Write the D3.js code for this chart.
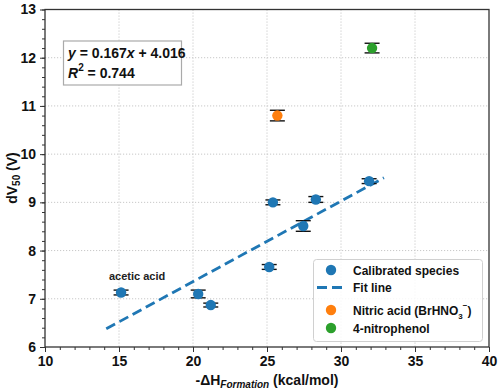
<!DOCTYPE html>
<html>
<head>
<meta charset="utf-8">
<script src="https://cdn.jsdelivr.net/npm/d3@7/dist/d3.min.js"></script>
<style>
  body { margin: 0; background: #fff; }
  svg { font-family: "Liberation Sans", Arial, sans-serif; }
</style>
</head>
<body>
<svg id="chart" width="500" height="391"></svg>
<script>
// calibrated species
const calX   = [15.14, 20.35, 21.2, 25.15, 25.4, 27.45, 28.3, 31.9];
const calY   = [7.13, 7.10, 6.87, 7.66, 9.00, 8.51, 9.06, 9.44];
const calErr = [0.05, 0.08, 0.04, 0.05, 0.05, 0.11, 0.06, 0.05];

// outliers
const nitricX = [25.7],  nitricY = [10.80], nitricErr = [0.11];
const phenolX = [32.1],  phenolY = [12.2],  phenolErr = [0.10];

// linear fit
const slope = 0.167, intercept = 4.016, r2 = 0.744;
const fitRange = [14.14, 32.9];

const xTicks = [10, 15, 20, 25, 30, 35, 40];
const yTicks = [6, 7, 8, 9, 10, 11, 12, 13];

const blue = "#1f77b4", orange = "#ff7f0e", green = "#2ca02c";

const svg = d3.select("#chart");
const m = {left: 45, right: 489, top: 9.5, bottom: 347};

const x = d3.scaleLinear().domain([10, 40]).range([m.left, m.right]);
const y = d3.scaleLinear().domain([6, 13]).range([m.bottom, m.top]);

// grid
const grid = svg.append("g").attr("stroke", "#c8c8c8").attr("stroke-width", 1)
  .attr("stroke-dasharray", "1.2,1.8");
grid.selectAll(".gx").data(xTicks.slice(1, -1)).enter().append("line")
  .attr("x1", d => x(d)).attr("x2", d => x(d)).attr("y1", m.top).attr("y2", m.bottom);
grid.selectAll(".gy").data(yTicks.slice(1, -1)).enter().append("line")
  .attr("y1", d => y(d)).attr("y2", d => y(d)).attr("x1", m.left).attr("x2", m.right);

// axes
const fmt = d3.format("d");
const xAxis = d3.axisBottom(x).tickValues(xTicks).tickFormat(fmt).tickSize(5).tickPadding(4);
const xMinor = d3.axisBottom(x).tickValues(d3.range(10, 40.01, 1)).tickSize(3).tickFormat("");
const yAxis = d3.axisLeft(y).tickValues(yTicks).tickFormat(fmt).tickSize(5).tickPadding(4);
const yMinor = d3.axisLeft(y).tickValues(d3.range(6, 13.01, 0.2)).tickSize(3).tickFormat("");

function styleAxis(g) {
  g.select(".domain").remove();
  g.selectAll("line").attr("stroke", "#333").attr("stroke-width", 1);
  g.selectAll("text").attr("fill", "#111").attr("font-size", 14).attr("font-weight", "bold");
}
svg.append("g").attr("transform", `translate(0,${m.bottom})`).call(xMinor).call(styleAxis);
svg.append("g").attr("transform", `translate(0,${m.bottom})`).call(xAxis).call(styleAxis);
svg.append("g").attr("transform", `translate(${m.left},0)`).call(yMinor).call(styleAxis);
svg.append("g").attr("transform", `translate(${m.left},0)`).call(yAxis).call(styleAxis);

svg.append("rect").attr("x", m.left).attr("y", m.top)
  .attr("width", m.right - m.left).attr("height", m.bottom - m.top)
  .attr("fill", "none").attr("stroke", "#333").attr("stroke-width", 1.3);

// fit line
svg.append("line")
  .attr("x1", x(fitRange[0])).attr("y1", y(slope * fitRange[0] + intercept))
  .attr("x2", x(fitRange[1])).attr("y2", y(slope * fitRange[1] + intercept))
  .attr("stroke", blue).attr("stroke-width", 2.8).attr("stroke-dasharray", "10,5");

// points with error bars
function series(xs, ys, errs, color) {
  const g = svg.append("g");
  const pts = xs.map((v, i) => ({x: v, y: ys[i], e: errs[i]}));
  const eb = g.selectAll(".eb").data(pts).enter().append("g").attr("stroke", "#111").attr("stroke-width", 1.4);
  eb.append("line").attr("x1", d => x(d.x)).attr("x2", d => x(d.x))
    .attr("y1", d => y(d.y - d.e)).attr("y2", d => y(d.y + d.e));
  [1, -1].forEach(s => {
    eb.append("line").attr("x1", d => x(d.x) - 7.5).attr("x2", d => x(d.x) + 7.5)
      .attr("y1", d => y(d.y + s * d.e)).attr("y2", d => y(d.y + s * d.e));
  });
  g.selectAll("circle").data(pts).enter().append("circle")
    .attr("cx", d => x(d.x)).attr("cy", d => y(d.y)).attr("r", 5.2).attr("fill", color);
}
series(calX, calY, calErr, blue);
series(nitricX, nitricY, nitricErr, orange);
series(phenolX, phenolY, phenolErr, green);

// acetic acid annotation
svg.append("text").attr("x", x(calX[0]) + 16).attr("y", y(calY[0]) - 13)
  .attr("text-anchor", "middle").attr("font-size", 11).attr("font-weight", "bold")
  .attr("fill", "#222").text("acetic acid");

// equation box
svg.append("rect").attr("x", 63.5).attr("y", 41).attr("width", 118).attr("height", 44)
  .attr("fill", "#fff").attr("stroke", "#aaa").attr("stroke-width", 1.2);
const eq1 = svg.append("text").attr("x", 68).attr("y", 58).attr("font-size", 14)
  .attr("font-weight", "bold").attr("fill", "#111");
eq1.append("tspan").attr("font-style", "italic").text("y");
eq1.append("tspan").text(` = ${slope}`);
eq1.append("tspan").attr("font-style", "italic").text("x");
eq1.append("tspan").text(` + ${intercept}`);
const eq2 = svg.append("text").attr("x", 68).attr("y", 78).attr("font-size", 14)
  .attr("font-weight", "bold").attr("fill", "#111");
eq2.append("tspan").attr("font-style", "italic").text("R");
eq2.append("tspan").attr("font-size", 10).attr("dy", -7).text("2");
eq2.append("tspan").attr("dy", 7).text(` = ${r2}`);

// legend
const leg = svg.append("g");
leg.append("rect").attr("x", 313.5).attr("y", 259.5).attr("width", 169).attr("height", 82)
  .attr("rx", 3).attr("fill", "#fff").attr("fill-opacity", 0.85)
  .attr("stroke", "#d0d0d0").attr("stroke-width", 1);
const rows = [270, 287.5, 310, 328];
const lx = 331, tx = 353;
leg.append("circle").attr("cx", lx).attr("cy", rows[0]).attr("r", 5.2).attr("fill", blue);
leg.append("line").attr("x1", lx - 14).attr("x2", lx + 14).attr("y1", rows[1]).attr("y2", rows[1])
  .attr("stroke", blue).attr("stroke-width", 2.8).attr("stroke-dasharray", "10,5");
leg.append("circle").attr("cx", lx).attr("cy", rows[2]).attr("r", 5.2).attr("fill", orange);
leg.append("circle").attr("cx", lx).attr("cy", rows[3]).attr("r", 5.2).attr("fill", green);
function legText(yy) {
  return leg.append("text").attr("x", tx).attr("y", yy + 4.5).attr("font-size", 12)
    .attr("font-weight", "bold").attr("fill", "#111");
}
legText(rows[0]).text("Calibrated species");
legText(rows[1]).text("Fit line");
const nt = legText(rows[2]);
nt.append("tspan").text("Nitric acid (BrHNO");
nt.append("tspan").attr("font-size", 8).attr("dy", 4).text("3");
nt.append("tspan").attr("font-size", 8).attr("dy", -11).text("\u2212");
nt.append("tspan").attr("dy", 7).text(")");
legText(rows[3]).text("4-nitrophenol");

// axis titles
const xt = svg.append("text").attr("x", 267).attr("y", 385).attr("text-anchor", "middle")
  .attr("font-size", 14).attr("font-weight", "bold").attr("fill", "#111");
xt.append("tspan").text("-\u0394H");
xt.append("tspan").attr("font-size", 10).attr("font-style", "italic").attr("dy", 3).text("Formation");
xt.append("tspan").attr("dy", -3).text(" (kcal/mol)");

const yt = svg.append("text").attr("transform", "translate(17,178) rotate(-90)")
  .attr("text-anchor", "middle").attr("font-size", 14).attr("font-weight", "bold").attr("fill", "#111");
yt.append("tspan").text("dV");
yt.append("tspan").attr("font-size", 10).attr("dy", 3).text("50");
yt.append("tspan").attr("dy", -3).text(" (V)");
</script>
</body>
</html>
